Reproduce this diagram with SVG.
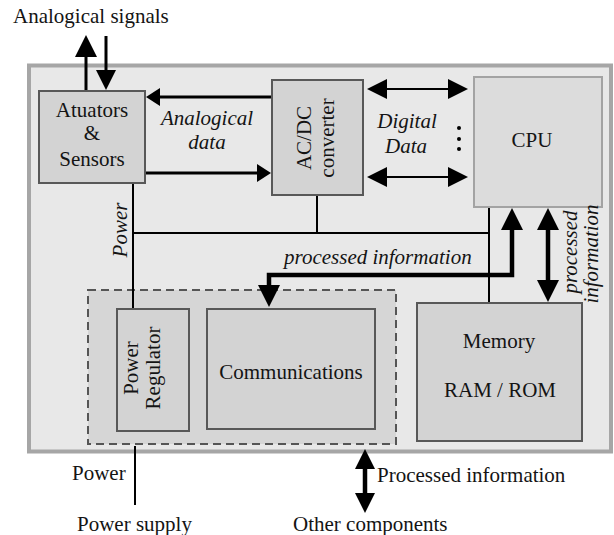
<svg xmlns="http://www.w3.org/2000/svg" width="614" height="535" viewBox="0 0 614 535" font-family="Liberation Serif, Times New Roman, serif">
<style>
.t{font-size:21px;fill:#141414}
.i{font-style:italic}
.m{text-anchor:middle}
.box{fill:#d3d3d3;stroke:#585858;stroke-width:2}
.ln{stroke:#000;fill:none}
</style>
<defs>
<marker id="big" markerUnits="userSpaceOnUse" markerWidth="22" markerHeight="22" refX="2" refY="11" orient="auto-start-reverse"><path d="M0,0 L22,11 L0,22 z" fill="#000"/></marker>
<marker id="mid" markerUnits="userSpaceOnUse" markerWidth="20" markerHeight="20" refX="2" refY="10" orient="auto-start-reverse"><path d="M0,0 L20,10 L0,20 z" fill="#000"/></marker>
<marker id="sm" markerUnits="userSpaceOnUse" markerWidth="14" markerHeight="18" refX="2" refY="9" orient="auto-start-reverse"><path d="M0,0 L14,9 L0,18 z" fill="#000"/></marker>
</defs>
<rect width="614" height="535" fill="#fff"/>
<g id="board"><rect x="29" y="65.5" width="582" height="386" fill="#e8e8e8" stroke="#a6a6a6" stroke-width="4"/></g>
<g id="comm-group"><rect x="88" y="290" width="308" height="154" fill="#d6d6d6" stroke="#555" stroke-width="2" stroke-dasharray="8 5"/></g>

<g id="connectors">
<line class="ln" x1="86" y1="91" x2="86" y2="55" stroke-width="3" marker-end="url(#big)"/>
<line class="ln" x1="106" y1="36" x2="106" y2="72" stroke-width="3" marker-end="url(#mid)"/>
<line class="ln" x1="272" y1="97" x2="158" y2="97" stroke-width="3" marker-end="url(#sm)"/>
<line class="ln" x1="146" y1="173" x2="259" y2="173" stroke-width="3" marker-end="url(#sm)"/>
<line class="ln" x1="385" y1="89" x2="450" y2="89" stroke-width="2" marker-start="url(#mid)" marker-end="url(#mid)"/>
<line class="ln" x1="385" y1="177" x2="450" y2="177" stroke-width="2" marker-start="url(#mid)" marker-end="url(#mid)"/>
<line class="ln" x1="133" y1="184" x2="133" y2="309" stroke-width="2"/>
<line class="ln" x1="133" y1="233" x2="489" y2="233" stroke-width="2"/>
<line class="ln" x1="317" y1="195" x2="317" y2="233" stroke-width="2"/>
<line class="ln" x1="489" y1="207" x2="489" y2="303" stroke-width="2"/>
<path class="ln" d="M269,287 L269,275 L512,275 L512,228" stroke-width="4.5" marker-start="url(#big)" marker-end="url(#big)"/>
<line class="ln" x1="548" y1="228" x2="548" y2="282" stroke-width="4.5" marker-start="url(#big)" marker-end="url(#big)"/>
<line class="ln" x1="135" y1="446" x2="135" y2="505" stroke-width="2"/>
<line class="ln" x1="365" y1="467" x2="365" y2="495" stroke-width="4.5" marker-start="url(#mid)" marker-end="url(#mid)"/>
</g>

<g id="sensors">
<rect class="box" x="39" y="91" width="106" height="92"/>
<text class="t m" x="92" y="117">Atuators</text>
<text class="t m" x="92" y="140">&amp;</text>
<text class="t m" x="92" y="166">Sensors</text>
</g>
<g id="adc">
<rect class="box" x="272" y="80" width="91" height="115"/>
<text class="t m" transform="translate(311,138) rotate(-90)">AC/DC</text>
<text class="t m" transform="translate(334,138) rotate(-90)">converter</text>
</g>
<g id="cpu">
<rect x="474" y="77" width="128" height="130" fill="#dcdcdc" stroke="#a3a3a3" stroke-width="2"/>
<text class="t m" x="532" y="147">CPU</text>
</g>
<g id="memory">
<rect class="box" x="417" y="303" width="165" height="138"/>
<text class="t m" x="499" y="348">Memory</text>
<text class="t m" x="500" y="397">RAM / ROM</text>
</g>
<g id="regulator">
<rect class="box" x="117" y="309" width="72" height="122"/>
<text class="t m" transform="translate(138,368) rotate(-90)">Power</text>
<text class="t m" transform="translate(160,368) rotate(-90)">Regulator</text>
</g>
<g id="communications">
<rect class="box" x="207" y="309" width="168" height="120"/>
<text class="t m" x="291" y="379">Communications</text>
</g>

<g id="labels">
<text class="t" x="13" y="23">Analogical signals</text>
<text class="t i m" x="207" y="125">Analogical</text>
<text class="t i m" x="207" y="149">data</text>
<text class="t i m" x="407" y="128">Digital</text>
<text class="t i m" x="406" y="153">Data</text>
<circle cx="459" cy="128" r="2" fill="#000"/>
<circle cx="459" cy="139" r="2" fill="#000"/>
<circle cx="459" cy="149" r="2" fill="#000"/>
<text class="t i m" transform="translate(127,230) rotate(-90)">Power</text>
<text class="t i" x="284" y="264">processed information</text>
<text class="t i m" transform="translate(577,252) rotate(-90)">processed</text>
<text class="t i m" transform="translate(598,254) rotate(-90)">information</text>
<text class="t" x="72" y="480">Power</text>
<text class="t" x="77" y="531">Power supply</text>
<text class="t" x="377" y="482">Processed information</text>
<text class="t" x="293" y="531">Other components</text>
</g>
</svg>
